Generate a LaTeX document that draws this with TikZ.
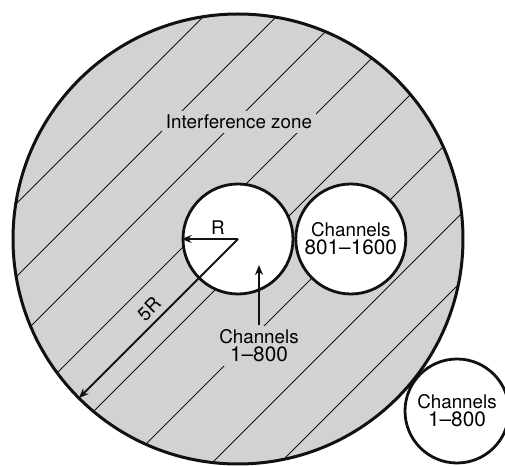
\documentclass[tikz,border=0pt]{standalone}
\usepackage{fontspec}
\setmainfont{TeX Gyre Heros}
\usetikzlibrary{arrows.meta,positioning,calc}
\definecolor{ink}    {HTML}{111111}
\definecolor{stipple}{HTML}{D2D2D2}
\newcommand{\chfont}{\fontsize{9.4pt}{9pt}\selectfont}
\newcommand{\numfont}{\fontsize{10.4pt}{9pt}\selectfont}
\tikzset{
  zonefill/.style ={fill=stipple},
  zoneline/.style ={draw=ink, line width=1.5pt},
  hatchline/.style={draw=ink, line width=0.4pt},
  cellcirc/.style ={draw=ink, fill=white, circle, line width=1.4pt,
                    minimum size=55pt, inner sep=0pt, align=center, font=\chfont},
  farcell/.style  ={cellcirc, minimum size=52pt},
  zonetext/.style ={fill=stipple, align=center, font=\chfont, inner sep=2pt},
  ptr/.style      ={-{Stealth[length=5pt,width=4pt]}, line width=1pt, draw=ink},
}
\begin{document}
\begin{tikzpicture}[x=0.5pt,y=0.5pt]
        \useasboundingbox (0,0) rectangle (505,466);
        \coordinate (o) at (238,227);

        % interference zone
        \begin{scope}
          \clip (o) circle (225);
          \fill[zonefill] (o) circle (225);
          \foreach \d in {246,173,109,36,-39,-124,-209,-277}
            \draw[hatchline] (-20,-20+\d) -- (540,540+\d);
        \end{scope}
        \draw[zoneline] (o) circle (225);
        \node[zonetext] (zonetxt) at (239,344) {Interference zone};

        % cells
        \node[cellcirc] (c1) at (o) {};
        \node[cellcirc,right=0pt of c1] (c2) {Channels\\{\numfont 801–1600}};
        \node[farcell] (c3) at (457,55) {Channels\\{\numfont 1–800}};

        % radius R
        \node[font=\chfont] (rtxt) at (218,238) {R};
        \draw[ptr] (c1.center) -- (c1.west);

        % radius 5R
        \coordinate (rim) at ($(o)+(225:225)$);
        \draw[ptr] (c1.center) -- (rim);
        \node[zonetext,rotate=45,inner sep=1pt] (fivertxt) at (149,157) {5R};

        % label of the centre cell
        \node[zonetext] (lbl1) at (259,120) {Channels\\{\numfont 1–800}};
        \coordinate (tip1) at (259,201);
        \draw[ptr] (lbl1.north) -- (tip1);
      \end{tikzpicture}
\end{document}
